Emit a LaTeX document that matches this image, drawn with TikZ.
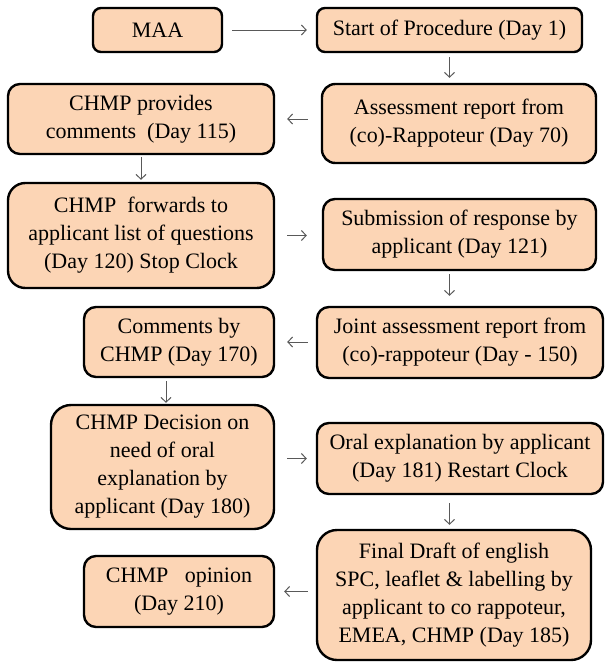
\documentclass[tikz,border=0pt]{standalone}
\usepackage{fontspec}
\newfontfamily\timesfont{Liberation Serif}
\usetikzlibrary{arrows.meta}
\definecolor{peach}{HTML}{FCD5B5}
\definecolor{arrowgray}{HTML}{595959}
\tikzstyle{stage} = [rectangle, draw=black, line width=1.8pt, fill=peach, align=center, inner sep=1pt, font=\timesfont\fontsize{16.5}{21}\selectfont]
\tikzstyle{arrow} = [arrowgray, line width=0.75pt, -{Straight Barb[length=3.5pt,width=7.5pt]}]

\begin{document}
\begin{tikzpicture}[x=0.75pt,y=-0.75pt]
\useasboundingbox (0,0) rectangle (605,662);

\node[stage, minimum width=96.75pt, minimum height=33pt, rounded corners=6pt] (maa) at (157.5,30) {MAA};
\node[stage, minimum width=198.75pt, minimum height=33pt, rounded corners=6pt] (start) at (449.5,30) {Start of Procedure (Day 1)};
\node[stage, minimum width=205.5pt, minimum height=59.25pt, rounded corners=10pt] (assess) at (459,123.5) {Assessment report from\\(co)-Rappoteur (Day 70)};
\node[stage, minimum width=199.5pt, minimum height=52.5pt, rounded corners=9pt] (provides) at (141,119) {CHMP provides\\comments~ (Day 115)};
\node[stage, minimum width=199.5pt, minimum height=78.75pt, rounded corners=13pt] (forwards) at (141,235.5) {CHMP~ forwards to\\applicant list of questions\\(Day 120) Stop Clock};
\node[stage, minimum width=204.75pt, minimum height=53.25pt, rounded corners=9pt] (submission) at (459.5,234.5) {Submission of response by\\applicant (Day 121)};
\node[stage, minimum width=214.5pt, minimum height=53.25pt, rounded corners=9pt] (joint) at (460,342.5) {Joint assessment report from\\(co)-rappoteur (Day - 150)};
\node[stage, minimum width=142.5pt, minimum height=52.5pt, rounded corners=9pt] (comments) at (179,342) {Comments by\\CHMP (Day 170)};
\node[stage, minimum width=167.25pt, minimum height=93pt, rounded corners=15pt] (decision) at (162.5,467) {CHMP Decision on\\need of oral\\explanation by\\applicant (Day 180)};
\node[stage, minimum width=214.5pt, minimum height=53.25pt, rounded corners=9pt] (oral) at (460,458.5) {Oral explanation by applicant\\(Day 181) Restart Clock};
\node[stage, minimum width=205.5pt, minimum height=97.5pt, rounded corners=15pt] (final) at (454,595) {Final Draft of english\\SPC, leaflet \& labelling by\\applicant to co rappoteur,\\EMEA, CHMP (Day 185)};
\node[stage, minimum width=142.5pt, minimum height=53.25pt, rounded corners=9pt] (opinion) at (179,591.5) {CHMP~~ opinion\\(Day 210)};

\coordinate (cd) at ([xshift=-9.75pt]comments.south);

\draw[arrow, shorten <=6.75pt, shorten >=6.75pt] (maa) -- (start);
\draw[arrow, shorten <=3pt, shorten >=3.75pt] (start) -- (start |- assess.north);
\draw[arrow, shorten <=9.75pt, shorten >=9pt] (provides.east -| assess.west) -- (provides.east);
\draw[arrow, shorten <=1.5pt, shorten >=1.5pt] (provides) -- (forwards);
\draw[arrow, shorten <=9pt, shorten >=11.25pt] (forwards.east) -- (forwards.east -| submission.west);
\draw[arrow, shorten <=2.25pt, shorten >=7.5pt] (submission.south -| start) -- (joint.north -| start);
\draw[arrow, shorten <=6pt, shorten >=9pt] (comments.east -| joint.west) -- (comments.east);
\draw[arrow, shorten <=2.25pt, shorten >=0.75pt] (cd) -- (cd |- decision.north);
\draw[arrow, shorten <=9pt, shorten >=6.75pt] (decision.east |- oral) -- (oral.west);
\draw[arrow, shorten <=6pt, shorten >=3pt] (oral.south -| start) -- (final.north -| start);
\draw[arrow, shorten <=6pt, shorten >=6.75pt] (opinion.east -| final.west) -- (opinion.east);
\end{tikzpicture}
\end{document}
